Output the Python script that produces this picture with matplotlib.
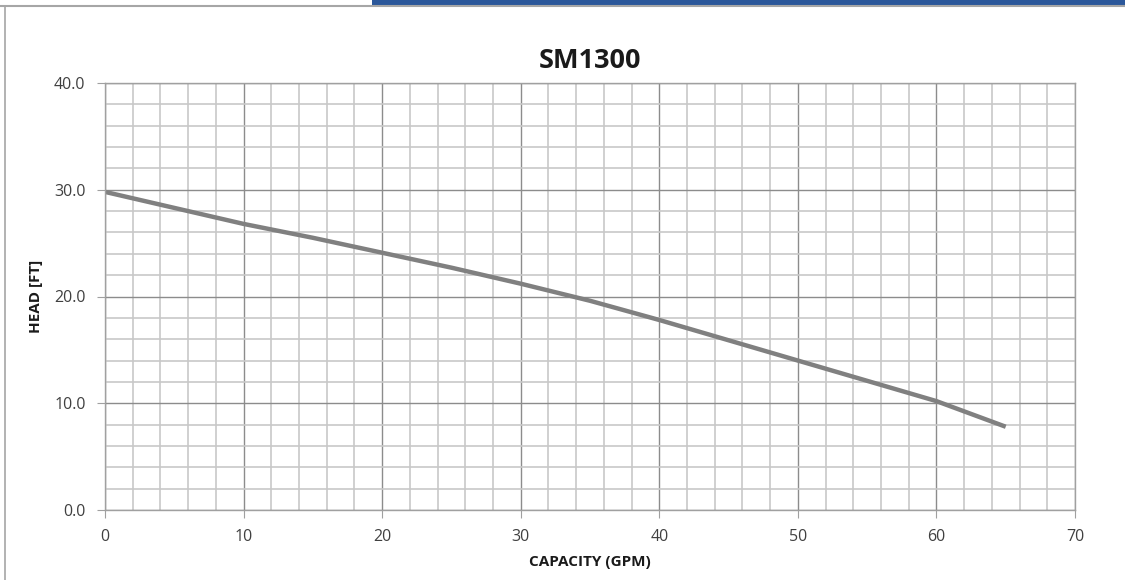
import numpy as np
import matplotlib.pyplot as plt
from matplotlib.ticker import MultipleLocator

# Pump curve
capacity_gpm = [0, 5, 10, 15, 20, 25, 30, 35, 40, 45, 50, 55, 60, 65]
head_ft = [29.8, 28.3, 26.8, 25.5, 24.1, 22.7, 21.2, 19.6, 17.8, 15.9, 14.0, 12.1, 10.2, 7.8]

x_ticks = [0, 10, 20, 30, 40, 50, 60, 70]
y_ticks = [0, 10, 20, 30, 40]

fig = plt.figure(figsize=(11.25, 5.8), dpi=100)
fig.patch.set_facecolor('white')

# Frame bits around the chart (page border + blue header strip)
fig.add_artist(plt.Line2D([0, 1], [1 - 5.5 / 580, 1 - 5.5 / 580], color='#a6a6a6', lw=1.5,
                          transform=fig.transFigure))
fig.add_artist(plt.Line2D([5 / 1125, 5 / 1125], [0, 1 - 5.5 / 580], color='#a6a6a6', lw=1.2,
                          transform=fig.transFigure))
fig.add_artist(plt.Rectangle((372 / 1125, 1 - 4.5 / 580), 1 - 372 / 1125, 4.5 / 580,
                             color='#2b579a', transform=fig.transFigure, lw=0))

ax = fig.add_axes([105 / 1125, 1 - 510 / 580, 970 / 1125, 427 / 580])
ax.plot(capacity_gpm, head_ft, color='#808080', lw=3.2, solid_capstyle='butt')

ax.set_xlim(0, 70)
ax.set_ylim(0, 40)
ax.set_xticks(x_ticks)
ax.set_yticks(y_ticks)
ax.set_yticklabels([f'{v:.1f}' for v in y_ticks])
ax.xaxis.set_minor_locator(MultipleLocator(2))
ax.yaxis.set_minor_locator(MultipleLocator(2))

ax.grid(which='major', color='#8c8c8c', lw=1.0)
ax.grid(which='minor', color='#c8c8c8', lw=1.2)
ax.set_axisbelow(True)

for s in ax.spines.values():
    s.set_color('#a0a0a0')
    s.set_linewidth(1.0)

ax.tick_params(which='major', length=6, color='#a0a0a0', labelsize=11.5,
               labelcolor='#404040', pad=8)
ax.tick_params(which='minor', length=0)
for lab in ax.get_xticklabels() + ax.get_yticklabels():
    lab.set_family('Open Sans')

ax.set_title('SM1300', fontsize=19.5, fontweight='bold', family='Open Sans', pad=11,
             color='#1a1a1a')
ax.set_xlabel('CAPACITY (GPM)', fontsize=11, fontweight='bold', family='Open Sans',
              labelpad=7, color='#1a1a1a')
ax.set_ylabel('HEAD [FT]', fontsize=11, fontweight='bold', family='Open Sans',
              labelpad=8, color='#1a1a1a')

fig.savefig('out.png', dpi=100)
